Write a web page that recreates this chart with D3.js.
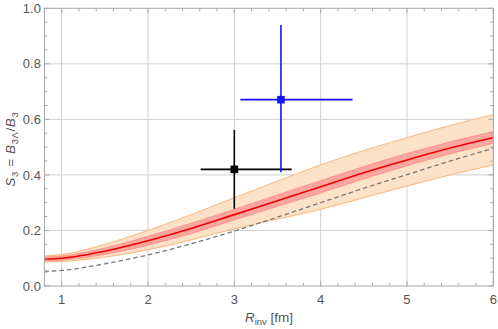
<!DOCTYPE html>
<html>
<head>
<meta charset="utf-8">
<script src="https://cdn.jsdelivr.net/npm/d3@7"></script>
<style>
  body { margin: 0; background: #fff; }
  text { font-family: "Liberation Sans", Arial, sans-serif; }
</style>
</head>
<body>
<div id="chart"></div>
<script>
// data
const rGrid   = [0.8, 1, 1.5, 2, 2.5, 3, 3.5, 4, 4.5, 5, 5.5, 6];
const central = [0.097, 0.100, 0.125, 0.163, 0.207, 0.257, 0.307, 0.357, 0.408, 0.454, 0.497, 0.535];
const redHi   = [0.104, 0.108, 0.137, 0.179, 0.226, 0.276, 0.328, 0.379, 0.430, 0.477, 0.519, 0.556];
const redLo   = [0.090, 0.093, 0.114, 0.147, 0.189, 0.238, 0.287, 0.335, 0.386, 0.433, 0.476, 0.514];
const orangeHi = [0.108, 0.113, 0.150, 0.200, 0.257, 0.318, 0.378, 0.436, 0.488, 0.534, 0.578, 0.617];
const orangeLo = [0.086, 0.088, 0.104, 0.130, 0.166, 0.206, 0.241, 0.276, 0.318, 0.360, 0.400, 0.436];
const dashed  = [0.053, 0.056, 0.080, 0.112, 0.152, 0.198, 0.248, 0.300, 0.352, 0.401, 0.450, 0.496];

// data points with error bars
const points = [
  { x: 3.00, xlo: 2.61, xhi: 3.665, y: 0.42, ylo: 0.278, yhi: 0.562, color: "#000000" },
  { x: 3.54, xlo: 3.07, xhi: 4.37, y: 0.671, ylo: 0.41, yhi: 0.94, color: "#1414ff" }
];

const xTicks = [1, 2, 3, 4, 5, 6];
const yTicks = [0.0, 0.2, 0.4, 0.6, 0.8, 1.0];

const width = 498, height = 329;
const margin = { left: 44.4, right: 4.7, top: 8.3, bottom: 43 };

const svg = d3.select("#chart").append("svg")
  .attr("width", width)
  .attr("height", height);

const x = d3.scaleLinear().domain([0.8, 6]).range([margin.left, width - margin.right]);
const y = d3.scaleLinear().domain([0, 1]).range([height - margin.bottom, margin.top]);

const x0 = x.range()[0], x1 = x.range()[1];
const y0 = y.range()[0], y1 = y.range()[1];

// grid lines
svg.append("g").selectAll("line.gx")
  .data(xTicks)
  .enter().append("line")
  .attr("x1", d => x(d)).attr("x2", d => x(d))
  .attr("y1", y0).attr("y2", y1)
  .style("stroke", "#d0d0d0").style("stroke-width", 1);

svg.append("g").selectAll("line.gy")
  .data(yTicks.filter(d => d > 0 && d < 1))
  .enter().append("line")
  .attr("x1", x0).attr("x2", x1)
  .attr("y1", d => y(d)).attr("y2", d => y(d))
  .style("stroke", "#d0d0d0").style("stroke-width", 1);

const rows = rGrid.map((r, i) => ({
  r, c: central[i], rh: redHi[i], rl: redLo[i], oh: orangeHi[i], ol: orangeLo[i], d: dashed[i]
}));

const curve = d3.curveMonotoneX;
const area = (lo, hi) => d3.area().curve(curve).x(d => x(d.r)).y0(d => y(d[lo])).y1(d => y(d[hi]));
const line = key => d3.line().curve(curve).x(d => x(d.r)).y(d => y(d[key]));

const plot = svg.append("g");

// orange band
plot.append("path").datum(rows).attr("d", area("ol", "oh"))
  .style("fill", "#fde2c8");
plot.append("path").datum(rows).attr("d", line("oh"))
  .style("fill", "none").style("stroke", "#fbb67a").style("stroke-width", 1);
plot.append("path").datum(rows).attr("d", line("ol"))
  .style("fill", "none").style("stroke", "#fbb67a").style("stroke-width", 1);

// red band
plot.append("path").datum(rows).attr("d", area("rl", "rh"))
  .style("fill", "#fba79f");
plot.append("path").datum(rows).attr("d", line("rh"))
  .style("fill", "none").style("stroke", "#f98a82").style("stroke-width", 0.8);
plot.append("path").datum(rows).attr("d", line("rl"))
  .style("fill", "none").style("stroke", "#f98a82").style("stroke-width", 0.8);

// central line
plot.append("path").datum(rows).attr("d", line("c"))
  .style("fill", "none").style("stroke", "#ee0000").style("stroke-width", 1.6);

// dashed
plot.append("path").datum(rows).attr("d", line("d"))
  .style("fill", "none").style("stroke", "#777777").style("stroke-width", 1.3)
  .style("stroke-dasharray", "4.5,3");

// error bars
points.forEach(p => {
  const g = plot.append("g");
  g.append("line")
    .attr("x1", x(p.xlo)).attr("x2", x(p.xhi))
    .attr("y1", y(p.y)).attr("y2", y(p.y))
    .style("stroke", p.color).style("stroke-width", 1.6);
  g.append("line")
    .attr("x1", x(p.x)).attr("x2", x(p.x))
    .attr("y1", y(p.ylo)).attr("y2", y(p.yhi))
    .style("stroke", p.color).style("stroke-width", 1.6);
  g.append("rect")
    .attr("x", x(p.x) - 3.8).attr("y", y(p.y) - 3.8)
    .attr("width", 7.6).attr("height", 7.6)
    .style("fill", p.color);
});

// frame with ticks on all sides (inward)
const frame = svg.append("g");
frame.append("rect")
  .attr("x", x0).attr("y", y1)
  .attr("width", x1 - x0).attr("height", y0 - y1)
  .style("fill", "none").style("stroke", "#a8a8a8").style("stroke-width", 1);

const xMinor = d3.range(0.8, 6.001, 0.2).map(v => +v.toFixed(2)).filter(v => !xTicks.includes(v));
const yMinor = d3.range(0, 1.001, 0.05).map(v => +v.toFixed(2)).filter(v => !yTicks.includes(v));

const tickStroke = "#a8a8a8";
[[xTicks, 5], [xMinor, 3]].forEach(([vals, len]) => {
  frame.selectAll(null).data(vals).enter().append("line")
    .attr("x1", d => x(d)).attr("x2", d => x(d))
    .attr("y1", y0).attr("y2", y0 - len)
    .style("stroke", tickStroke);
  frame.selectAll(null).data(vals).enter().append("line")
    .attr("x1", d => x(d)).attr("x2", d => x(d))
    .attr("y1", y1).attr("y2", y1 + len)
    .style("stroke", tickStroke);
});
[[yTicks, 5], [yMinor, 3]].forEach(([vals, len]) => {
  frame.selectAll(null).data(vals).enter().append("line")
    .attr("x1", x0).attr("x2", x0 + len)
    .attr("y1", d => y(d)).attr("y2", d => y(d))
    .style("stroke", tickStroke);
  frame.selectAll(null).data(vals).enter().append("line")
    .attr("x1", x1).attr("x2", x1 - len)
    .attr("y1", d => y(d)).attr("y2", d => y(d))
    .style("stroke", tickStroke);
});

// tick labels
const labelColor = "#555555";
frame.selectAll(null).data(xTicks).enter().append("text")
  .attr("x", d => x(d)).attr("y", y0 + 18)
  .attr("text-anchor", "middle")
  .style("font-size", "13px").style("fill", labelColor)
  .text(d => d);

frame.selectAll(null).data(yTicks).enter().append("text")
  .attr("x", x0 - 3.5).attr("y", d => y(d) + 4.6)
  .attr("text-anchor", "end")
  .style("font-size", "13px").style("fill", labelColor)
  .text(d => d.toFixed(1));

// axis titles
const xt = svg.append("text")
  .attr("x", 269).attr("y", 322)
  .attr("text-anchor", "middle")
  .style("font-size", "13.5px").style("fill", labelColor);
xt.append("tspan").style("font-style", "italic").text("R");
xt.append("tspan").attr("dy", 3).style("font-size", "9.5px").text("inv");
xt.append("tspan").attr("dy", -3).text(" [fm]");

const yt = svg.append("text")
  .attr("transform", "translate(15," + ((y0 + y1) / 2 + 2) + ") rotate(-90)")
  .attr("text-anchor", "middle")
  .style("font-size", "13.5px").style("fill", labelColor)
  .style("letter-spacing", "0.6px");
yt.append("tspan").style("font-style", "italic").text("S");
yt.append("tspan").attr("dy", 3).style("font-size", "9.5px").text("3");
yt.append("tspan").attr("dy", -3).text(" = ");
yt.append("tspan").style("font-style", "italic").text("B");
yt.append("tspan").attr("dy", 3).style("font-size", "9.5px").text("3Λ");
yt.append("tspan").attr("dy", -3).text("/");
yt.append("tspan").style("font-style", "italic").text("B");
yt.append("tspan").attr("dy", 3).style("font-size", "9.5px").text("3");
</script>
</body>
</html>
